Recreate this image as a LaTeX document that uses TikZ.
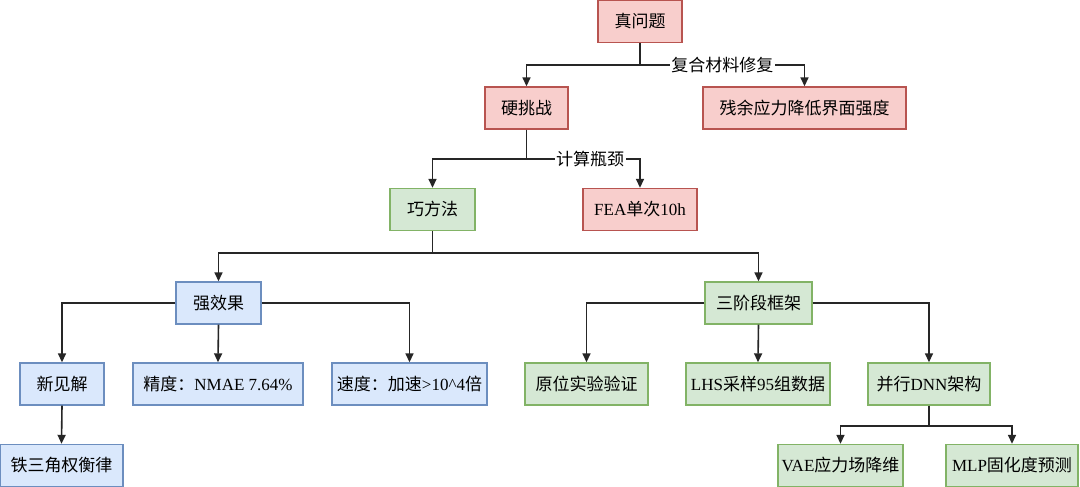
\documentclass[tikz,border=0pt]{standalone}
\usepackage{fontspec}
\setmainfont{Liberation Serif}
\newfontfamily\cjk{Noto Sans CJK SC}
\newcommand\zh[1]{{\cjk #1}}
\usetikzlibrary{arrows.meta}
\definecolor{redf}{HTML}{F8CECC}\definecolor{redd}{HTML}{B85450}
\definecolor{bluef}{HTML}{DAE8FC}\definecolor{blued}{HTML}{6C8EBF}
\definecolor{greenf}{HTML}{D5E8D4}\definecolor{greend}{HTML}{82B366}
\begin{document}
\begin{tikzpicture}[x=1pt,y=-1pt,
  box/.style={draw, line width=1.4pt, minimum height=42pt, inner sep=2pt, font=\fontsize{17}{20}\selectfont},
  rbox/.style={box, fill=redf, draw=redd},
  bbox/.style={box, fill=bluef, draw=blued},
  gbox/.style={box, fill=greenf, draw=greend},
  arr/.style={draw=black!85, line width=1.6pt, -{Triangle[length=9pt,width=8pt]}},
  lbl/.style={fill=white, inner sep=1.5pt, font=\fontsize{17}{20}\selectfont}]
\useasboundingbox (0,0) rectangle (1080,487);
\fill[white] (0,0) rectangle (1080,487);
% nodes
\node[rbox, minimum width=84pt] (zwt) at (640,21.5) {\zh{真问题}};
\node[rbox, minimum width=83pt] (ytz) at (526.5,108) {\zh{硬挑战}};
\node[rbox, minimum width=203pt] (cy) at (804.5,108) {\zh{残余应力降低界面强度}};
\node[gbox, minimum width=85pt] (qff) at (432.5,209.5) {\zh{巧方法}};
\node[rbox, minimum width=114pt] (fea) at (640,209.5) {FEA\zh{单次}10h};
\node[bbox, minimum width=85pt] (qxg) at (218.5,303) {\zh{强效果}};
\node[gbox, minimum width=107pt] (sjd) at (758.5,303) {\zh{三阶段框架}};
\node[bbox, minimum width=84pt] (xjj) at (62,384) {\zh{新见解}};
\node[bbox, minimum width=170pt] (jd) at (218,384) {\zh{精度：}NMAE 7.64\%};
\node[bbox, minimum width=155pt] (sd) at (409.5,384) {\zh{速度：加速}>10\textasciicircum 4\zh{倍}};
\node[gbox, minimum width=123pt] (ywsy) at (586.5,384) {\zh{原位实验验证}};
\node[gbox, minimum width=144pt] (lhs) at (758,384) {LHS\zh{采样}95\zh{组数据}};
\node[gbox, minimum width=122pt] (dnn) at (929,384) {\zh{并行}DNN\zh{架构}};
\node[bbox, minimum width=123pt] (tsj) at (61.5,465.5) {\zh{铁三角权衡律}};
\node[gbox, minimum width=125pt] (vae) at (840.5,465.5) {VAE\zh{应力场降维}};
\node[gbox, minimum width=132pt] (mlp) at (1012,465.5) {MLP\zh{固化度预测}};
% connectors
\draw[arr] (zwt.south) -- ++(0,22) -| (ytz.north);
\draw[arr] (zwt.south) -- ++(0,22) -| node[pos=0.25, lbl] {\zh{复合材料修复}} (cy.north);
\draw[arr] (ytz.south) -- ++(0,29) -| (qff.north);
\draw[arr] (ytz.south) -- ++(0,29) -| node[pos=0.28, lbl] {\zh{计算瓶颈}} (fea.north);
\draw[arr] (qff.south) -- ++(0,22) -| (qxg.north);
\draw[arr] (qff.south) -- ++(0,22) -| (sjd.north);
\draw[arr] (qxg.west) -| (xjj.north);
\draw[arr] (qxg.south) -- (jd.north);
\draw[arr] (qxg.east) -| (sd.north);
\draw[arr] (sjd.west) -| (ywsy.north);
\draw[arr] (sjd.south) -- (lhs.north);
\draw[arr] (sjd.east) -| (dnn.north);
\draw[arr] (xjj.south) -- (tsj.north);
\draw[arr] (dnn.south) -- ++(0,20) -| (vae.north);
\draw[arr] (dnn.south) -- ++(0,20) -| (mlp.north);
\end{tikzpicture}
\end{document}
